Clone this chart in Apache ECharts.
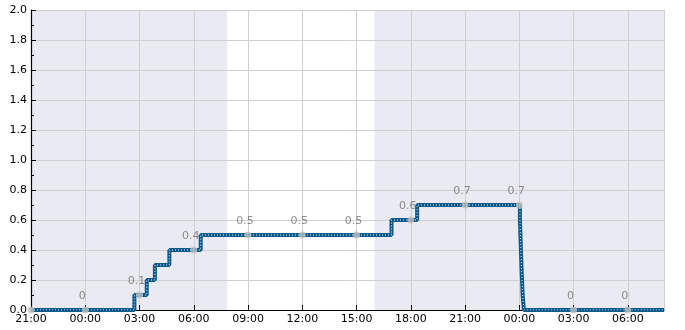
<!DOCTYPE html>
<html><head><meta charset="utf-8">
<script src="https://cdn.jsdelivr.net/npm/echarts@6/dist/echarts.min.js"></script>
<style>html,body{margin:0;padding:0;background:#fff}#c{width:685px;height:330px}</style>
</head><body><div id="c"></div>
<script>
// Step line: time (day offset + clock) and new value from that time on
var stepTimes = ['0 21:00','1 02:43','1 03:24','1 03:51','1 04:39','1 06:23','1 16:56','1 18:21','2 00:02','2 00:07','2 00:11','2 00:15','2 08:00'];
var stepValues = [0, 0.1, 0.2, 0.3, 0.4, 0.5, 0.6, 0.7, 0.6, 0.3, 0.1, 0, 0];
// Sampled (labelled) points every 3 hours
var sampleTimes = ['0 21:00','1 00:00','1 03:00','1 06:00','1 09:00','1 12:00','1 15:00','1 18:00','1 21:00','2 00:00','2 03:00','2 06:00'];
var sampleValues = [0, 0, 0.1, 0.4, 0.5, 0.5, 0.5, 0.6, 0.7, 0.7, 0, 0];
var sampleLabels = ['', '0', '0.1', '0.4', '0.5', '0.5', '0.5', '0.6', '0.7', '0.7', '0', '0'];
// Shaded (night) periods
var shadeStart = ['0 21:00', '1 16:00'];
var shadeEnd = ['1 07:50', '2 08:00'];
var xStart = '0 21:00', xEnd = '2 08:00';
var yTicks = [0, 0.2, 0.4, 0.6, 0.8, 1.0, 1.2, 1.4, 1.6, 1.8, 2.0];

function h(s){ // hours since day0 21:00
  var p = s.split(' '), d = +p[0], hm = p[1].split(':');
  return d*24 + (+hm[0]) + (+hm[1])/60 - 21;
}
var stepData = stepTimes.map(function(t,i){return [h(t), stepValues[i]];});
var sampleData = sampleTimes.map(function(t,i){
  return {value:[h(t), sampleValues[i]], label:{show: sampleLabels[i] !== '', formatter: sampleLabels[i]}};
});
var areas = shadeStart.map(function(s,i){return [{xAxis:h(s)},{xAxis:h(shadeEnd[i])}];});

var chart = echarts.init(document.getElementById('c'), null, {renderer:'canvas'});
var font = 'DejaVu Sans';
chart.setOption({
  animation:false,
  grid:{left:31, right:21, top:10, bottom:20},
  xAxis:{type:'value', min:h(xStart), max:h(xEnd), interval:3, z:1,
    axisLine:{lineStyle:{color:'#000', width:1.2}},
    axisTick:{inside:true, length:5, lineStyle:{color:'#000'}},
    splitLine:{show:true, lineStyle:{color:'#cfcfcf', width:1}},
    axisLabel:{fontFamily:font, fontSize:11, color:'#000', margin:4, showMaxLabel:false,
      formatter:function(v){var hh=Math.round((21+v))%24; return (hh<10?'0':'')+hh+':00';}}
  },
  yAxis:{type:'value', min:yTicks[0], max:yTicks[yTicks.length-1], interval:0.2, z:1,
    axisLine:{show:true, lineStyle:{color:'#000', width:1.2}},
    axisTick:{show:true, inside:true, length:5, lineStyle:{color:'#000'}},
    minorTick:{show:true, splitNumber:2, length:3, lineStyle:{color:'#000'}},
    splitLine:{show:true, lineStyle:{color:'#cfcfcf', width:1}},
    axisLabel:{fontFamily:font, fontSize:11, color:'#000', margin:4, formatter:function(v){return v.toFixed(1);}}
  },
  series:[
    {type:'line', data:[], z:0, symbol:'none',
      markArea:{silent:true, z:0, itemStyle:{color:'#eaeaf2'}, data:areas}},
    {type:'line', data:stepData, step:'end', symbol:'none', z:2,
      lineStyle:{color:'#0d5a8a', width:4}},
    {type:'line', data:stepData, step:'end', symbol:'none', z:3,
      lineStyle:{color:'#ffffff', width:1, type:[1,2], opacity:0.9}},
    {type:'scatter', data:sampleData, symbolSize:7, z:4,
      itemStyle:{color:'#c0c0c0'},
      label:{position:'top', distance:4, offset:[-3,-1], fontFamily:font, fontSize:11, color:'#707070'}}
  ]
});
</script></body></html>
